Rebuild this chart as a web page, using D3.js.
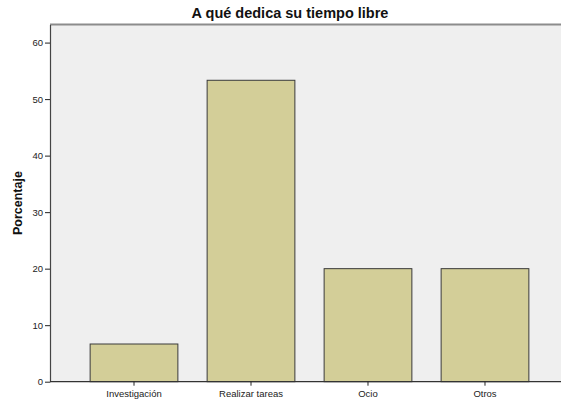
<!DOCTYPE html>
<html>
<head>
<meta charset="utf-8">
<script src="https://cdn.jsdelivr.net/npm/d3@7"></script>
<style>
  body { margin: 0; background: #fff; }
  svg { display: block; font-family: Arial, "Liberation Sans", sans-serif; }
</style>
</head>
<body>
<div id="chart"></div>
<script>
// data
const categories = ["Investigación", "Realizar tareas", "Ocio", "Otros"];
const percentages = [6.67, 53.33, 20, 20];
const yTicks = [0, 10, 20, 30, 40, 50, 60];

const width = 561, height = 402;
const margin = { top: 24.5, right: -8, bottom: 20.3, left: 50 };

const svg = d3.select("#chart").append("svg")
    .attr("width", width)
    .attr("height", height);

const x = d3.scaleBand()
    .domain(categories)
    .range([margin.left, width - margin.right])
    .paddingInner(0.25)
    .paddingOuter(0.343);

const y = d3.scaleLinear()
    .domain([0, 63.2])
    .range([height - margin.bottom, margin.top]);

// plot background
svg.append("rect")
    .attr("x", margin.left)
    .attr("y", margin.top)
    .attr("width", width - margin.left)
    .attr("height", y(0) - margin.top)
    .attr("fill", "#efefef");

// top frame line
svg.append("line")
    .attr("x1", margin.left).attr("x2", width)
    .attr("y1", margin.top).attr("y2", margin.top)
    .attr("stroke", "#8c8c8c")
    .attr("stroke-width", 2);

// bars
svg.selectAll(".bar")
    .data(percentages)
    .enter().append("rect")
    .attr("class", "bar")
    .attr("x", (d, i) => x(categories[i]))
    .attr("y", d => y(d))
    .attr("width", x.bandwidth())
    .attr("height", d => y(0) - y(d))
    .attr("fill", "#d3ce98")
    .attr("stroke", "#3a3a3a")
    .attr("stroke-width", 1);

// y axis
const yAxis = svg.append("g")
    .attr("transform", `translate(${margin.left},0)`)
    .call(d3.axisLeft(y).tickValues(yTicks).tickSize(5).tickPadding(2).tickSizeOuter(0));
yAxis.select(".domain").attr("stroke", "#444").attr("stroke-width", 1.2);
yAxis.selectAll(".tick line").attr("stroke", "#222");
yAxis.selectAll("text").attr("font-size", "9.5px").attr("fill", "#222");

// x axis
const xAxis = svg.append("g")
    .attr("transform", `translate(0,${y(0)})`)
    .call(d3.axisBottom(x).tickSize(4).tickPadding(5).tickSizeOuter(0));
xAxis.select(".domain").attr("stroke", "#333").attr("stroke-width", 1.2)
    .attr("d", `M${margin.left},0H${width}`);
xAxis.selectAll(".tick line").attr("stroke", "#222");
xAxis.selectAll("text").attr("font-size", "9.5px").attr("fill", "#222");

// title
svg.append("text")
    .attr("x", 290)
    .attr("y", 18)
    .attr("text-anchor", "middle")
    .attr("font-size", "14.5px")
    .attr("font-weight", "bold")
    .attr("fill", "#111")
    .text("A qué dedica su tiempo libre");

// y label
svg.append("text")
    .attr("transform", `translate(22,${(margin.top + y(0)) / 2}) rotate(-90)`)
    .attr("text-anchor", "middle")
    .attr("font-size", "12.5px")
    .attr("font-weight", "bold")
    .attr("fill", "#111")
    .text("Porcentaje");
</script>
</body>
</html>
